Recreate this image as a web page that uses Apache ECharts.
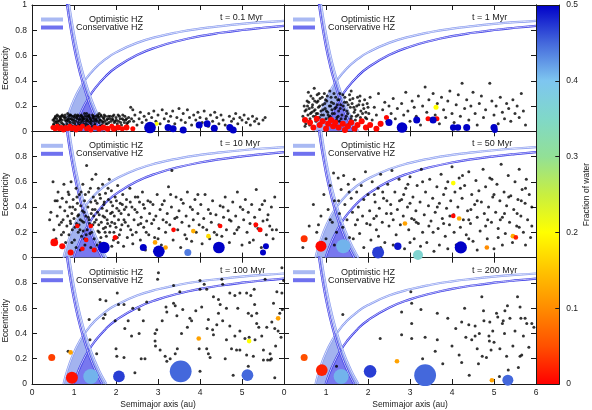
<!DOCTYPE html>
<html>
<head>
<meta charset="utf-8">
<title>Embryos and planetesimals, HZ snapshots</title>
<script src="https://cdn.jsdelivr.net/npm/echarts@6.0.0/dist/echarts.min.js"></script>
<style>
  html, body { margin: 0; padding: 0; background: #fff; }
  #chart { width: 592px; height: 410px; }
</style>
</head>
<body>
<div id="chart"></div>
<script>
// snapshot titles, one per panel (left to right, top to bottom)
const snapTimes = ["t = 0.1 Myr", "t = 1 Myr", "t = 10 Myr", "t = 50 Myr", "t = 100 Myr", "t = 200 Myr"];
const hzNames = ["Optimistic HZ", "Conservative HZ"];

// colour scale of the water fraction
const waterTicks = [0, 0.05, 0.1, 0.15, 0.2, 0.25, 0.3, 0.35, 0.4, 0.45, 0.5];
const waterColors = ["#ff0000", "#ff5000", "#ff8c00", "#ffc400", "#ffff00", "#c8ef40",
                     "#92e096", "#80d8c8", "#7ec6f0", "#4468dc", "#0000c8"];

// HZ limits: [a, e]
const hzOptArea = [[0.75,0],[0.8,0.063],[0.9,0.167],[1.0,0.25],[1.1,0.318],[1.2,0.375],[1.26,0.405],
  [1.3,0.362],[1.4,0.264],[1.5,0.18],[1.6,0.106],[1.7,0.041],[1.77,0]];
const hzConsArea = [[0.99,0],[1.1,0.1],[1.2,0.175],[1.3,0.238],[1.33,0.256],[1.4,0.193],[1.5,0.113],[1.6,0.044],[1.67,0]];
const riseOpt = [[0.75,0],[0.8,0.063],[0.9,0.167],[1.0,0.25],[1.1,0.318],[1.25,0.4],[1.5,0.5],[1.75,0.571],
  [2,0.625],[2.5,0.7],[3,0.75],[3.5,0.786],[4,0.813],[4.5,0.833],[5,0.85],[5.5,0.864],[6,0.875]];
const riseCons = [[0.99,0],[1.05,0.057],[1.1,0.1],[1.2,0.175],[1.33,0.256],[1.5,0.34],[1.75,0.434],[2,0.505],
  [2.5,0.604],[3,0.67],[3.5,0.717],[4,0.753],[4.5,0.78],[5,0.802],[5.5,0.82],[6,0.835]];
const fallOpt = [[0.85,1.082],[0.9,0.967],[1.0,0.77],[1.1,0.609],[1.2,0.475],[1.3,0.362],[1.4,0.264],
  [1.5,0.18],[1.6,0.106],[1.7,0.041],[1.77,0]];
const fallCons = [[0.8,1.088],[0.85,0.965],[0.9,0.856],[1.0,0.67],[1.1,0.518],[1.2,0.392],[1.3,0.285],
  [1.4,0.193],[1.5,0.113],[1.6,0.044],[1.67,0]];

// planetesimals (black dots): [a, e]
const dots01 = [[0.5,0.09],[0.52,0.06],[0.55,0.11],[0.58,0.04],[0.6,0.08],[0.63,0.12],[0.65,0.05],[0.68,0.1],[0.7,0.07],
  [0.72,0.13],[0.75,0.03],[0.78,0.09],[0.8,0.11],[0.83,0.06],[0.85,0.14],[0.88,0.08],[0.9,0.1],[0.93,0.05],[0.95,0.12],
  [0.98,0.07],[1.0,0.09],[1.03,0.13],[1.05,0.04],[1.08,0.1],[1.1,0.07],[1.13,0.12],[1.15,0.05],[1.18,0.09],[1.2,0.11],
  [1.23,0.06],[1.25,0.14],[1.28,0.08],[1.3,0.1],[1.33,0.05],[1.35,0.12],[1.38,0.07],[1.4,0.09],[1.43,0.04],[1.45,0.11],
  [1.48,0.08],[1.5,0.06],[1.53,0.1],[1.56,0.13],[1.6,0.07],[1.63,0.09],[1.66,0.05],[1.7,0.11],[1.73,0.08],[1.76,0.06],
  [1.8,0.1],[1.83,0.07],[1.86,0.12],[1.9,0.05],[1.93,0.09],[1.96,0.07],[2.0,0.11],[2.03,0.06],[2.06,0.08],[2.1,0.1],
  [2.13,0.05],[2.16,0.13],[2.2,0.07],[2.23,0.09],[2.26,0.06],[2.3,0.11],
  [0.53,0.1],[0.57,0.07],[0.62,0.03],[0.66,0.09],[0.69,0.12],[0.73,0.06],[0.77,0.11],[0.81,0.04],[0.84,0.09],[0.87,0.12],
  [0.91,0.07],[0.94,0.1],[0.97,0.04],[1.01,0.11],[1.04,0.08],[1.07,0.12],[1.11,0.05],[1.14,0.1],[1.17,0.13],[1.21,0.08],
  [1.24,0.1],[1.27,0.04],[1.31,0.12],[1.34,0.08],[1.37,0.11],[1.41,0.06],[1.44,0.13],[1.47,0.1],[1.51,0.12],[1.55,0.08],
  [1.59,0.11],[1.62,0.04],[1.65,0.12],[1.69,0.07],[1.72,0.13],[1.78,0.09],[1.85,0.1],[1.92,0.12],[1.98,0.08],[2.08,0.12],
  [2.18,0.09],[2.28,0.07],
  [0.51,0.05],[0.54,0.08],[0.56,0.12],[0.59,0.1],[0.61,0.06],[0.64,0.08],[0.67,0.11],[0.71,0.09],[0.74,0.12],[0.76,0.05],
  [0.79,0.13],[0.82,0.08],[0.86,0.1],[0.89,0.05],[0.92,0.13],[0.96,0.09],[0.99,0.12],[1.02,0.06],[1.06,0.11],[1.09,0.13],
  [1.12,0.09],[1.16,0.07],[1.19,0.12],[1.22,0.1],[1.26,0.12],[1.29,0.06],[1.32,0.09],[1.36,0.13],[1.39,0.1],[1.42,0.08],
  [1.46,0.12],[1.49,0.05],[1.52,0.09],[1.57,0.12],[1.61,0.09],[1.64,0.13],[1.67,0.08],[1.71,0.1],[1.75,0.12],[1.79,0.06],
  [1.82,0.12],[1.88,0.08],[1.91,0.1],[1.95,0.13],[2.01,0.09],[2.05,0.13],[2.11,0.07],[2.15,0.1],[2.21,0.12],[2.25,0.1],
  [2.32,0.08],[2.37,0.1],[0.6,0.13],[0.9,0.13],[1.3,0.14],[1.6,0.14],
  [2.35,0.19],[2.4,0.17],[2.42,0.08],[2.45,0.13],[2.5,0.05],[2.55,0.1],[2.58,0.15],[2.62,0.07],[2.67,0.12],[2.72,0.09],
  [2.78,0.14],[2.85,0.11],[2.9,0.16],[2.95,0.08],[3.0,0.13],[3.05,0.06],[3.1,0.17],[3.15,0.1],[3.2,0.14],[3.25,0.08],
  [3.3,0.12],[3.35,0.16],[3.4,0.06],[3.45,0.11],[3.5,0.18],[3.55,0.09],[3.6,0.14],[3.65,0.07],[3.7,0.17],[3.75,0.11],
  [3.8,0.05],[3.85,0.13],[3.9,0.09],[3.95,0.15],[4.0,0.11],[4.05,0.07],[4.1,0.16],[4.15,0.1],[4.2,0.04],[4.25,0.13],
  [4.3,0.08],[4.35,0.15],[4.4,0.11],[4.45,0.06],[4.5,0.13],[4.55,0.09],[4.6,0.05],[4.7,0.12],[4.75,0.08],[4.8,0.1],
  [4.85,0.14],[4.9,0.06],[4.95,0.11],[5.0,0.09],[5.05,0.13],[5.1,0.07],[5.15,0.1],[5.2,0.05],[5.25,0.12],[5.3,0.08],
  [5.35,0.1],[5.4,0.06],[5.5,0.09],[5.55,0.11]];
const dots1 = [[0.45,0.12],[0.48,0.2],[0.5,0.16],[0.52,0.06],[0.55,0.24],[0.57,0.13],[0.6,0.18],[0.62,0.1],[0.64,0.28],
  [0.66,0.15],[0.68,0.21],[0.7,0.12],[0.72,0.34],[0.74,0.17],[0.76,0.08],[0.78,0.23],[0.8,0.14],[0.82,0.19],[0.84,0.11],
  [0.86,0.26],[0.88,0.16],[0.9,0.09],[0.92,0.21],[0.94,0.13],[0.96,0.3],[0.98,0.18],[1.0,0.1],[1.02,0.24],[1.04,0.15],
  [1.06,0.07],[1.08,0.2],[1.1,0.12],[1.12,0.27],[1.14,0.17],[1.16,0.09],[1.18,0.22],[1.2,0.14],[1.22,0.05],[1.24,0.19],
  [1.26,0.11],[1.28,0.25],[1.3,0.16],[1.32,0.08],[1.35,0.21],[1.38,0.13],[1.4,0.29],[1.43,0.17],[1.46,0.1],[1.49,0.23],
  [1.52,0.14],[1.55,0.06],[1.58,0.19],[1.61,0.12],[1.64,0.26],[1.67,0.15],[1.7,0.09],[1.73,0.2],[1.76,0.13],[1.8,0.24],
  [1.83,0.16],[1.86,0.07],[1.9,0.18],[1.94,0.11],[1.98,0.22],[2.02,0.14],
  [0.5,0.04],[0.56,0.2],[0.63,0.14],[0.69,0.26],[0.75,0.12],[0.81,0.24],[0.87,0.06],[0.93,0.17],[0.99,0.25],[1.05,0.13],
  [1.11,0.2],[1.17,0.03],[1.23,0.27],[1.29,0.12],[1.34,0.18],[1.39,0.06],[1.44,0.23],[1.5,0.16],[1.57,0.25],[1.63,0.08],
  [1.69,0.17],[1.75,0.27],[1.82,0.11],[1.88,0.21],[1.95,0.15],[0.58,0.31],[0.83,0.3],[1.09,0.32],[1.33,0.3],[1.6,0.32],
  [0.47,0.09],[0.53,0.17],[0.59,0.23],[0.61,0.05],[0.67,0.19],[0.71,0.16],[0.73,0.24],[0.77,0.14],[0.79,0.29],[0.85,0.2],
  [0.89,0.13],[0.91,0.27],[0.95,0.08],[0.97,0.22],[1.01,0.16],[1.03,0.28],[1.07,0.11],[1.13,0.23],[1.15,0.14],[1.19,0.3],
  [1.21,0.18],[1.25,0.09],[1.27,0.21],[1.31,0.25],[1.36,0.1],[1.41,0.2],[1.45,0.27],[1.48,0.12],[1.53,0.21],[1.56,0.29],
  [1.59,0.1],[1.62,0.22],[1.66,0.19],[1.72,0.12],[1.78,0.21],[1.81,0.28],[1.87,0.14],[1.92,0.25],[1.97,0.1],[2.0,0.19],
  [2.05,0.27],[2.1,0.09],[2.15,0.19],[2.2,0.13],[2.25,0.3],[2.3,0.05],[2.35,0.17],[2.4,0.23],[2.45,0.08],[2.5,0.2],
  [2.55,0.14],[2.6,0.26],[2.65,0.1],[2.7,0.18],[2.75,0.04],[2.8,0.22],[2.85,0.13],[2.9,0.31],[2.95,0.16],[3.0,0.08],
  [3.05,0.24],[3.1,0.19],[3.15,0.12],[3.2,0.28],[3.25,0.05],[3.3,0.2],[3.36,0.35],[3.4,0.15],[3.45,0.25],[3.5,0.1],
  [3.55,0.3],[3.6,0.13],[3.65,0.22],[3.7,0.06],[3.75,0.27],[3.8,0.17],[3.85,0.11],[3.9,0.24],[3.95,0.32],[4.0,0.14],
  [4.05,0.07],[4.1,0.21],[4.15,0.29],[4.2,0.12],[4.24,0.38],[4.3,0.18],[4.35,0.25],[4.4,0.09],[4.45,0.2],[4.5,0.31],
  [4.55,0.14],[4.6,0.05],[4.65,0.22],[4.7,0.28],[4.75,0.11],[4.8,0.17],[4.9,0.38],[4.95,0.24],[5.0,0.13],[5.05,0.2],
  [5.1,0.06],[5.15,0.27],[5.2,0.15],[5.25,0.1],[5.3,0.22],[5.35,0.18],[5.4,0.08],[5.45,0.25],[5.5,0.14],[5.55,0.2],
  [5.6,0.11],[5.65,0.3],[5.7,0.16],[5.75,0.05]];
const dots10 = [[0.42,0.3],[0.45,0.36],[0.5,0.6],[0.52,0.22],[0.55,0.45],[0.57,0.15],[0.6,0.33],[0.62,0.52],[0.65,0.26],
  [0.67,0.4],[0.7,0.18],[0.72,0.47],[0.74,0.3],[0.76,0.58],[0.78,0.37],[0.8,0.12],
  [0.82,0.44],[0.83,0.25],[0.85,0.33],[0.86,0.52],[0.88,0.18],[0.9,0.4],[0.91,0.29],[0.93,0.6],[0.95,0.35],[0.96,0.22],
  [0.98,0.46],[1.0,0.31],[1.01,0.14],[1.03,0.38],[1.05,0.55],[1.06,0.27],[1.08,0.43],[1.1,0.2],[1.11,0.34],[1.13,0.5],
  [1.15,0.3],[1.16,0.41],[1.18,0.17],[1.2,0.37],[1.21,0.58],[1.23,0.28],[1.25,0.45],[1.26,0.1],[1.28,0.33],[1.3,0.73],
  [1.31,0.22],[1.33,0.4],[1.35,0.52],[1.36,0.3],[1.38,0.19],[1.4,0.44],[1.41,0.35],[1.43,0.62],[1.45,0.26],[1.46,0.48],
  [1.48,0.15],[1.5,0.38],[1.52,0.66],[1.53,0.3],[1.55,0.43],[1.57,0.21],[1.58,0.55],[1.6,0.34],[1.62,0.12],[1.63,0.47],
  [1.65,0.28],[1.67,0.39],[1.68,0.58],[1.7,0.23],[1.72,0.44],[1.73,0.32],[1.75,0.51],[1.77,0.17],[1.78,0.37],[1.8,0.27],
  [1.82,0.46],[1.84,0.62],[1.85,0.2],[1.87,0.35],[1.89,0.53],[1.9,0.28],[1.92,0.41],[1.94,0.14],[1.96,0.33],[1.98,0.48],
  [2.0,0.24],[2.02,0.39],[2.04,0.57],[2.06,0.3],[2.08,0.18],[2.1,0.43],[2.12,0.35],[2.14,0.26],[2.16,0.5],[2.18,0.09],
  [2.2,0.38],[0.95,0.12],[1.05,0.08],[1.15,0.06],[1.25,0.15],[1.4,0.08],[1.55,0.1],[1.7,0.06],[1.9,0.09],[2.05,0.12],
  [1.12,0.26],[1.22,0.21],[1.37,0.27],[1.47,0.33],[1.6,0.2],[1.75,0.24],[1.95,0.2],
  [0.88,0.5],[0.92,0.27],[0.97,0.4],[1.02,0.24],[1.07,0.48],[1.09,0.33],[1.14,0.22],[1.17,0.52],[1.19,0.29],[1.24,0.36],
  [1.27,0.5],[1.29,0.18],[1.34,0.32],[1.39,0.55],[1.42,0.2],[1.44,0.38],[1.49,0.28],[1.51,0.45],[1.56,0.36],[1.59,0.26],
  [1.61,0.5],[1.64,0.16],[1.69,0.33],[1.71,0.42],[1.74,0.2],[1.79,0.3],[1.81,0.55],[1.86,0.25],[1.88,0.44],[1.91,0.36],
  [1.97,0.27],[2.01,0.45],[2.03,0.16],[2.07,0.37],[2.11,0.22],[2.15,0.42],[2.19,0.3],[2.24,0.4],[2.29,0.25],[2.34,0.44],
  [2.39,0.18],[2.45,0.38],[2.52,0.48],[2.59,0.27],[2.65,0.42],[2.72,0.2],[2.82,0.44],[2.9,0.3],[3.0,0.15],[3.1,0.42],
  [3.2,0.28],[3.3,0.5],[3.45,0.32],[3.55,0.46],[3.68,0.15],[3.82,0.38],[3.95,0.5],[4.07,0.24],[4.25,0.35],[4.4,0.18],
  [4.55,0.4],[4.7,0.3],[4.88,0.22],[5.02,0.38],[5.18,0.12],[5.32,0.25],[5.48,0.42],[5.6,0.3],[5.72,0.22],[0.6,0.45],
  [0.7,0.28],[0.75,0.2],
  [2.22,0.28],[2.25,0.46],[2.27,0.16],[2.3,0.34],[2.33,0.55],[2.35,0.22],[2.38,0.4],[2.4,0.11],[2.43,0.3],[2.46,0.48],
  [2.48,0.2],[2.5,0.36],[2.53,0.26],[2.56,0.44],[2.58,0.14],[2.6,0.32],[2.63,0.52],[2.66,0.24],[2.68,0.39],[2.7,0.06],
  [2.73,0.29],[2.76,0.45],[2.78,0.18],[2.8,0.35],
  [2.85,0.27],[2.88,0.42],[2.92,0.16],[2.95,0.33],[2.98,0.5],[3.02,0.23],[3.05,0.38],[3.08,0.1],[3.12,0.3],[3.15,0.45],
  [3.18,0.2],[3.22,0.35],[3.25,0.56],[3.28,0.26],[3.32,0.4],[3.33,0.69],[3.36,0.14],[3.4,0.31],[3.43,0.48],[3.47,0.22],
  [3.5,0.37],[3.54,0.08],[3.57,0.28],[3.6,0.43],[3.64,0.18],[3.67,0.33],[3.7,0.52],[3.74,0.25],[3.77,0.4],[3.8,0.13],
  [3.84,0.3],[3.88,0.46],[3.91,0.2],[3.95,0.35],[3.98,0.26],[4.02,0.42],[4.05,0.11],[4.09,0.31],[4.12,0.5],[4.16,0.22],
  [4.2,0.38],[4.23,0.15],[4.27,0.28],[4.3,0.45],[4.34,0.2],[4.38,0.34],[4.41,0.06],[4.45,0.26],[4.48,0.41],[4.52,0.17],
  [4.56,0.32],[4.6,0.48],[4.63,0.22],[4.67,0.37],[4.7,0.12],[4.74,0.29],[4.78,0.44],[4.82,0.19],[4.85,0.33],[4.89,0.52],
  [4.92,0.24],[4.96,0.4],[5.0,0.1],[5.04,0.3],[5.08,0.46],[5.12,0.2],[5.15,0.36],[5.19,0.27],[5.23,0.42],[5.27,0.14],
  [5.3,0.32],[5.34,0.54],[5.38,0.23],[5.42,0.38],[5.46,0.08],[5.5,0.29],[5.54,0.45],[5.58,0.18],[5.62,0.34],[5.66,0.25],
  [5.7,0.4],[5.74,0.15],[5.78,0.48],[5.82,0.22]];
const dots50 = [[0.45,0.08],[0.6,0.25],[0.7,0.42],[0.78,0.2],[0.82,0.26],[0.88,0.33],[0.95,0.5],[1.0,0.15],[1.05,0.38],
  [1.1,0.57],[1.15,0.28],[1.18,0.67],[1.2,0.45],[1.25,0.2],[1.29,0.63],[1.32,0.35],[1.36,0.54],[1.4,0.24],[1.42,0.65],
  [1.45,0.42],[1.5,0.3],[1.53,0.58],[1.56,0.16],[1.6,0.47],[1.63,0.36],[1.67,0.62],[1.7,0.26],[1.73,0.52],[1.77,0.4],
  [1.8,0.19],[1.84,0.57],[1.87,0.33],[1.9,0.46],[1.94,0.68],[1.97,0.27],[2.0,0.5],[2.04,0.37],[2.07,0.14],[2.1,0.6],
  [2.14,0.31],[2.17,0.44],[2.2,0.22],[2.24,0.55],[2.27,0.39],[2.3,0.66],[2.34,0.28],[2.37,0.47],[2.4,0.12],[2.44,0.35],
  [2.47,0.58],[2.5,0.25],[2.54,0.42],[2.57,0.69],[2.6,0.3],[2.64,0.52],[2.67,0.18],[2.7,0.38],[2.74,0.62],[2.77,0.26],
  [2.8,0.46],[2.84,0.33],[2.87,0.07],[2.9,0.55],[2.94,0.4],[2.97,0.22],[3.0,0.64],[3.04,0.31],[3.07,0.48],[3.1,0.15],
  [3.14,0.37],[3.17,0.57],[3.2,0.27],[3.24,0.44],[3.27,0.7],[3.3,0.2],[3.34,0.34],[3.37,0.52],[3.4,0.12],[3.44,0.41],
  [3.47,0.62],[3.5,0.29],[3.54,0.47],[3.57,0.05],[3.6,0.36],[3.64,0.56],[3.67,0.23],[3.7,0.43],[3.74,0.66],[3.77,0.31],
  [3.8,0.5],[3.84,0.17],[3.87,0.39],[3.9,0.6],[3.94,0.26],[3.97,0.45],[4.0,0.72],[4.04,0.34],[4.07,0.52],[4.1,0.1],
  [4.14,0.4],[4.17,0.63],[4.2,0.24],[4.24,0.47],[4.27,0.3],[4.3,0.57],[4.34,0.18],[4.37,0.37],[4.4,0.68],[4.44,0.27],
  [4.47,0.5],[4.5,0.13],[4.54,0.42],[4.57,0.61],[4.6,0.32],[4.64,0.53],[4.67,0.21],[4.7,0.44],[4.74,0.7],[4.77,0.35],
  [4.8,0.56],[4.84,0.15],[4.87,0.4],[4.9,0.63],[4.94,0.28],[4.97,0.48],[5.0,0.07],[5.04,0.36],[5.07,0.58],[5.1,0.23],
  [5.14,0.45],[5.17,0.74],[5.2,0.32],[5.24,0.52],[5.27,0.19],[5.3,0.41],[5.34,0.65],[5.37,0.28],[5.4,0.49],[5.44,0.12],
  [5.47,0.38],[5.5,0.6],[5.54,0.25],[5.57,0.46],[5.6,0.7],[5.64,0.33],[5.67,0.54],[5.7,0.2],[5.74,0.43],[5.77,0.62],
  [5.8,0.3],[5.84,0.5],[5.87,0.16],[5.9,0.4],
  [1.5,0.1],[1.9,0.08],[2.25,0.17],[2.6,0.1],[3.25,0.09],[3.9,0.07],[4.6,0.06],[5.2,0.1],
  [2.15,0.5],[2.45,0.45],[2.85,0.5],[3.15,0.28],[3.55,0.2],[3.95,0.33],[4.45,0.38],[4.85,0.3],[5.25,0.35],[5.65,0.45],
  [2.2,0.33],[3.0,0.43],[3.8,0.27],[4.2,0.55],[5.0,0.5],[5.6,0.24],
  [1.1,0.3],[1.3,0.45],[1.55,0.52],[1.75,0.3],[2.05,0.26],[2.35,0.52],[2.55,0.35],[2.75,0.45],[2.95,0.58],[3.1,0.3],
  [3.3,0.6],[3.45,0.25],[3.65,0.4],[3.85,0.55],[4.05,0.2],[4.25,0.65],[4.4,0.3],[4.6,0.45],[4.8,0.25],[4.95,0.62],
  [5.15,0.3],[5.35,0.48],[5.55,0.35],[5.75,0.55],[5.9,0.25],[1.65,0.15],[2.3,0.08],[3.0,0.12],[3.7,0.1],[4.4,0.15],
  [5.1,0.16],[5.75,0.1],[0.9,0.12],[1.2,0.1]];
const dots100 = [[0.86,0.26],[1.36,0.51],[1.38,0.35],[1.54,0.24],[1.62,0.67],[1.76,0.66],[1.7,0.52],[1.74,0.55],[2.02,0.22],
  [2.0,0.28],[2.03,0.72],[2.06,0.63],[1.98,0.5],[2.19,0.63],[2.21,0.44],[2.19,0.21],[2.29,0.5],[2.45,0.09],[2.55,0.59],
  [2.65,0.5],[2.55,0.4],[2.69,0.2],[2.93,0.4],[2.97,0.43],[2.99,0.83],[3.01,0.88],[2.93,0.34],[2.94,0.3],[3.05,0.27],
  [3.17,0.22],[3.19,0.61],[3.21,0.57],[3.37,0.78],[3.37,0.64],[3.41,0.62],[3.45,0.54],[3.52,0.73],[3.56,0.4],[3.46,0.28],
  [3.41,0.24],[3.29,0.2],[3.21,0.18],[3.59,0.59],[3.76,0.52],[3.8,0.5],[4.0,0.82],[4.1,0.79],[4.16,0.75],[4.0,0.75],
  [4.04,0.61],[4.2,0.51],[4.17,0.44],[4.3,0.43],[4.32,0.39],[4.16,0.28],[4.2,0.24],[4.24,0.21],[4.0,0.1],[3.98,0.28],
  [4.32,0.69],[4.44,0.67],[4.44,0.56],[4.48,0.63],[4.54,0.5],[4.63,0.6],[4.71,0.72],[4.83,0.7],[4.95,0.72],[5.11,0.72],
  [5.21,0.7],[5.29,0.75],[5.55,0.83],[4.52,0.83],[4.54,0.79],[5.35,0.56],[5.15,0.56],[5.23,0.54],[5.35,0.48],[4.71,0.46],
  [4.95,0.42],[4.83,0.38],[4.63,0.35],[4.75,0.28],[4.87,0.27],[4.95,0.27],[5.11,0.23],[5.27,0.22],[5.07,0.36],[5.17,0.37],
  [5.31,0.35],[5.51,0.27],[5.47,0.38],[5.59,0.45],[5.67,0.19],[5.7,0.2],[5.78,0.05],[5.83,0.73],[5.75,0.64],[5.71,0.49],
  [5.78,0.44],[5.86,0.42],[5.93,0.37],[5.96,0.59],[5.99,0.82],[4.79,0.07],[5.15,0.14],[5.67,0.24],[5.51,0.19],[5.61,0.19],
  [5.95,0.92],[5.95,0.72],[2.73,0.65],[2.37,0.38],[2.6,0.2],[3.1,0.5],[3.7,0.45],[4.4,0.47],[4.9,0.6],[5.4,0.45],
  [5.8,0.3],[2.4,0.6],[3.9,0.58],[4.6,0.2],[5.3,0.63],[5.9,0.56]];
const dots200 = [[1.4,0.55],[1.25,0.14],[2.29,0.36],[2.8,0.57],[3.02,0.73],[3.04,0.64],[3.26,0.59],[3.04,0.48],[2.8,0.39],
  [3.04,0.36],[3.36,0.37],[3.65,0.56],[3.65,0.35],[3.6,0.26],[3.78,0.16],[4.09,0.44],[4.23,0.49],[4.17,0.23],[4.23,0.17],
  [4.33,0.37],[4.4,0.47],[4.47,0.35],[4.55,0.46],[4.63,0.16],[4.41,0.07],[4.65,0.4],[4.71,0.69],[4.75,0.58],[4.76,0.5],
  [4.72,0.22],[4.82,0.21],[4.88,0.38],[4.89,0.34],[4.93,0.27],[4.97,0.42],[5.06,0.56],[5.09,0.53],[5.14,0.28],[5.2,0.48],
  [5.22,0.5],[5.26,0.58],[5.3,0.22],[5.34,0.11],[5.32,0.62],[5.38,0.52],[5.5,0.42],[5.56,0.69],[5.58,0.13],[5.62,0.61],
  [5.64,0.52],[5.62,0.22],[5.66,0.23],[5.74,0.52],[5.78,0.48],[5.83,0.29],[5.9,0.48],[5.13,0.06],[4.55,0.38],[4.9,0.49],
  [3.3,0.2],[4.0,0.3],[4.3,0.6],[5.0,0.33],[5.45,0.3],[5.7,0.38],[3.9,0.52],[4.6,0.28],[5.25,0.4],[5.95,0.45]];

// embryos / planets: [a, e, water fraction, mass (M_earth)]
const bodies01 = [[0.5,0.03,0.005,0.016],[0.55,0.02,0.005,0.016],[0.6,0.04,0.005,0.016],[0.65,0.02,0.005,0.016],
  [0.7,0.03,0.005,0.016],[0.75,0.01,0.005,0.016],[0.8,0.03,0.005,0.016],[0.85,0.02,0.005,0.016],[0.9,0.04,0.005,0.016],
  [0.95,0.02,0.005,0.016],[1.0,0.03,0.005,0.016],[1.05,0.01,0.005,0.016],[1.1,0.03,0.005,0.016],[1.15,0.02,0.005,0.016],
  [1.2,0.04,0.005,0.016],[1.3,0.02,0.005,0.016],[1.35,0.03,0.005,0.016],[1.4,0.01,0.005,0.016],[1.5,0.03,0.005,0.016],
  [1.6,0.02,0.005,0.027],[1.7,0.03,0.005,0.027],[1.8,0.02,0.005,0.027],[1.9,0.04,0.005,0.016],[1.95,0.02,0.005,0.027],
  [2.05,0.03,0.005,0.027],[2.15,0.02,0.005,0.016],[2.25,0.03,0.005,0.027],[2.4,0.02,0.005,0.016],
  [2.97,0.06,0.2,0.008],
  [2.81,0.03,0.5,0.2],[3.24,0.03,0.5,0.043],[3.36,0.02,0.5,0.043],[3.6,0.01,0.5,0.043],[3.98,0.05,0.5,0.043],
  [4.17,0.06,0.5,0.043],[4.34,0.025,0.5,0.043],[4.71,0.03,0.5,0.043],[4.79,0.01,0.5,0.043]];
const bodies1 = [[0.5,0.09,0.005,0.027],[0.62,0.07,0.005,0.027],[0.7,0.03,0.005,0.027],[0.78,0.1,0.005,0.027],
  [0.85,0.05,0.005,0.027],[0.92,0.08,0.005,0.027],[1.0,0.02,0.005,0.027],[1.05,0.06,0.005,0.027],[1.12,0.09,0.005,0.027],
  [1.17,0.04,0.005,0.027],[1.22,0.07,0.005,0.027],[1.3,0.03,0.005,0.027],[1.4,0.06,0.005,0.027],[1.45,0.01,0.005,0.027],
  [1.52,0.04,0.005,0.027],[1.6,0.07,0.005,0.027],[1.68,0.02,0.005,0.027],[1.75,0.05,0.005,0.027],[1.85,0.08,0.005,0.027],
  [1.95,0.03,0.005,0.027],[2.05,0.05,0.005,0.027],[2.2,0.02,0.005,0.027],[2.3,0.06,0.005,0.027],[2.44,0.11,0.005,0.016],
  [3.43,0.1,0.005,0.016],[3.64,0.1,0.005,0.016],
  [3.62,0.19,0.2,0.016],
  [2.5,0.07,0.5,0.043],[2.81,0.03,0.5,0.15],[3.16,0.09,0.5,0.043],[3.55,0.09,0.5,0.043],[4.03,0.03,0.5,0.035],
  [4.14,0.03,0.5,0.035],[4.35,0.03,0.5,0.043],[5.0,0.03,0.5,0.043],[5.02,0.01,0.5,0.027]];
const bodies10 = [[0.53,0.12,0.005,0.057],[0.72,0.09,0.005,0.027],[0.92,0.04,0.005,0.027],[1.08,0.25,0.005,0.0125],
  [1.4,0.25,0.005,0.0125],[1.29,0.14,0.005,0.0125],[1.2,0.07,0.005,0.0125],[1.48,0.06,0.005,0.0156],[1.98,0.16,0.005,0.0156],
  [3.37,0.22,0.005,0.0125],[4.48,0.25,0.005,0.0125],[5.33,0.26,0.005,0.0156],[5.43,0.22,0.005,0.0156],
  [2.93,0.12,0.12,0.0125],[3.18,0.08,0.12,0.0125],[3.84,0.21,0.13,0.0125],[4.2,0.17,0.17,0.0125],
  [1.71,0.08,0.5,0.2],[2.65,0.08,0.5,0.043],[3.02,0.05,0.5,0.2],[3.71,0.04,0.44,0.043],[4.45,0.08,0.5,0.2],
  [5.57,0.09,0.5,0.027],[5.5,0.04,0.5,0.027]];
const bodies50 = [[0.48,0.15,0.03,0.043],[0.88,0.09,0.005,0.166],[1.41,0.09,0.41,0.34],[2.24,0.04,0.47,0.216],
  [2.71,0.09,0.49,0.05],[3.19,0.02,0.36,0.125],[4.21,0.08,0.5,0.23],[4.03,0.59,0.2,0.0125],[4.03,0.33,0.005,0.0125],
  [4.17,0.31,0.13,0.0125],[2.88,0.27,0.12,0.0125],[4.83,0.08,0.1,0.0125],[5.45,0.17,0.13,0.0125],[5.52,0.16,0.02,0.0125]];
const bodies100 = [[0.47,0.21,0.04,0.043],[0.92,0.25,0.12,0.0125],[0.95,0.05,0.01,0.216],[1.4,0.06,0.41,0.42],
  [2.07,0.06,0.47,0.2],[3.54,0.1,0.45,1.3],[5.13,0.07,0.45,0.2],[3.97,0.36,0.12,0.0125],[5.17,0.34,0.2,0.0125],
  [5.86,0.52,0.12,0.0125]];
const bodies200 = [[0.48,0.21,0.05,0.043],[0.9,0.11,0.02,0.2],[1.36,0.06,0.41,0.42],[2.05,0.1,0.47,0.25],
  [2.69,0.18,0.12,0.0125],[3.36,0.07,0.45,1.3],[4.95,0.03,0.12,0.0125],[5.33,0.03,0.45,0.166]];

const panelDots = [dots01, dots1, dots10, dots50, dots100, dots200];
const panelBodies = [bodies01, bodies1, bodies10, bodies50, bodies100, bodies200];

const FONT = '"Liberation Sans", Arial, Helvetica, sans-serif';
const INK = "#1a1a1a";
const OPT_FILL = "#a3b3ef", CONS_FILL = "#7878ef";
const OPT_LINE = "#8699ef", CONS_LINE = "#3a3ae6";

const colLeft = [32, 284], rowTop = [5, 131.3, 257.7];
const PW = 252, PH = 126.3;

const grids = [], xAxes = [], yAxes = [], series = [], graphics = [], bodyIdx = [];
const lab = { fontFamily: FONT, fontSize: 8.5, color: INK };
const axLine = { show: true, onZero: false, lineStyle: { color: INK, width: 1 } };
const axTick = { show: true, inside: true, length: 5, lineStyle: { color: INK, width: 1 } };

// HZ edge: drawn as a double line (coloured stroke with a thin white core)
function curve(data, color, xa, ya) {
  const base = { type: "line", xAxisIndex: xa, yAxisIndex: ya, data: data, symbol: "none",
                 smooth: true, silent: true, z: 3, animation: false };
  return [
    Object.assign({}, base, { lineStyle: { color: color, width: 2.2 } }),
    Object.assign({}, base, { lineStyle: { color: "#fff", width: 0.7 } })
  ];
}

for (let i = 0; i < 6; i++) {
  const col = i % 2, row = Math.floor(i / 2);
  const L = colLeft[col], T = rowTop[row];
  grids.push({ left: L, top: T, width: PW, height: PH });

  xAxes.push({
    gridIndex: i, type: "value", min: 0, max: 6, interval: 1, position: "bottom",
    axisLine: axLine, axisTick: axTick, splitLine: { show: false },
    axisLabel: Object.assign({ show: row === 2, margin: 4,
      formatter: v => (col === 0 && v === 6) ? "" : String(v) }, lab),
    name: row === 2 ? "Semimajor axis (au)" : "", nameLocation: "middle", nameGap: 16,
    nameTextStyle: lab
  });
  xAxes.push({
    gridIndex: i, type: "value", min: 0, max: 6, interval: 1, position: "top",
    axisLine: axLine, axisTick: axTick, splitLine: { show: false }, axisLabel: { show: false }
  });
  yAxes.push({
    gridIndex: i, type: "value", min: 0, max: 1, interval: 0.2, position: "left",
    axisLine: axLine, axisTick: axTick, splitLine: { show: false },
    axisLabel: Object.assign({ show: col === 0, margin: 5,
      formatter: v => (row > 0 && v === 1) ? "" : String(+v.toFixed(1)) }, lab),
    name: col === 0 ? "Eccentricity" : "", nameLocation: "middle", nameRotate: 90, nameGap: 22,
    nameTextStyle: lab
  });
  yAxes.push({
    gridIndex: i, type: "value", min: 0, max: 1, interval: 0.2, position: "right",
    axisLine: axLine, axisTick: axTick, splitLine: { show: false }, axisLabel: { show: false }
  });

  const xa = 2 * i, ya = 2 * i;
  series.push({ type: "line", xAxisIndex: xa, yAxisIndex: ya, data: hzOptArea, symbol: "none", silent: true,
    lineStyle: { width: 0, opacity: 0 }, areaStyle: { color: OPT_FILL, opacity: 1 }, z: 1 });
  series.push({ type: "line", xAxisIndex: xa, yAxisIndex: ya, data: hzConsArea, symbol: "none", silent: true,
    lineStyle: { width: 0, opacity: 0 }, areaStyle: { color: CONS_FILL, opacity: 1 }, z: 1 });
  series.push(...curve(riseOpt, OPT_LINE, xa, ya));
  series.push(...curve(riseCons, CONS_LINE, xa, ya));
  series.push(...curve(fallOpt, OPT_LINE, xa, ya));
  series.push(...curve(fallCons, CONS_LINE, xa, ya));
  series.push({ type: "scatter", xAxisIndex: xa, yAxisIndex: ya, data: panelDots[i], symbolSize: 3,
    itemStyle: { color: "#000" }, silent: true, z: 4 });
  bodyIdx.push(series.length);
  series.push({ type: "scatter", xAxisIndex: xa, yAxisIndex: ya, data: panelBodies[i], clip: false,
    symbolSize: v => 20 * Math.cbrt(v[3]), itemStyle: { opacity: 1 }, silent: true, z: 5 });

  // legend and time stamp of the panel
  graphics.push({ type: "rect", shape: { x: L + 9, y: T + 12.5, width: 22, height: 4 }, style: { fill: "#a9b9f3" } });
  graphics.push({ type: "rect", shape: { x: L + 9, y: T + 20.5, width: 22, height: 4 }, style: { fill: "#6f71ef" } });
  graphics.push({ type: "text", x: L + 111, y: T + 14.5, style: { text: hzNames[0], font: "9px " + FONT, fill: INK,
    textAlign: "right", align: "right", textVerticalAlign: "middle", verticalAlign: "middle" } });
  graphics.push({ type: "text", x: L + 111, y: T + 22.5, style: { text: hzNames[1], font: "9px " + FONT, fill: INK,
    textAlign: "right", align: "right", textVerticalAlign: "middle", verticalAlign: "middle" } });
  graphics.push({ type: "text", x: L + 188, y: T + 12.5, style: { text: snapTimes[i], font: "9px " + FONT, fill: INK,
    textAlign: "left", align: "left", textVerticalAlign: "middle", verticalAlign: "middle" } });
}

// colour bar
grids.push({ left: 536, top: 5, width: 26, height: 379 });
xAxes.push({ gridIndex: 6, type: "category", data: ["w"], position: "bottom", z: 10,
  axisLine: axLine, axisTick: { show: false }, axisLabel: { show: false } });
xAxes.push({ gridIndex: 6, type: "category", data: ["w"], position: "top", z: 10,
  axisLine: axLine, axisTick: { show: false }, axisLabel: { show: false } });
yAxes.push({ gridIndex: 6, type: "value", min: 0, max: 0.5, interval: 0.1, position: "left", z: 10,
  axisLine: axLine, axisTick: { show: false }, axisLabel: { show: false }, splitLine: { show: false } });
yAxes.push({ gridIndex: 6, type: "value", min: 0, max: 0.5, interval: 0.1, position: "right", z: 10,
  axisLine: axLine, axisTick: { show: true, inside: true, length: 4, lineStyle: { color: INK } },
  splitLine: { show: false },
  axisLabel: Object.assign({ margin: 7, formatter: v => String(+v.toFixed(1)) }, lab),
  name: "Fraction of water", nameLocation: "middle", nameRotate: 90, nameGap: 22, nameTextStyle: lab });

const stops = waterTicks.map((w, k) => ({ offset: 1 - w / 0.5, color: waterColors[k] }));
series.push({ type: "bar", xAxisIndex: 12, yAxisIndex: 13, data: [0.5], barWidth: "100%", silent: true, z: 1,
  itemStyle: { color: new echarts.graphic.LinearGradient(0, 0, 0, 1, stops.slice().reverse()) } });

const chart = echarts.init(document.getElementById("chart"), null, { renderer: "canvas" });
chart.setOption({
  animation: false,
  backgroundColor: "#fff",
  grid: grids,
  xAxis: xAxes,
  yAxis: yAxes,
  visualMap: {
    type: "continuous", show: false, min: 0, max: 0.5, dimension: 2, seriesIndex: bodyIdx,
    inRange: { color: waterColors }
  },
  graphic: graphics,
  series: series
});
window.addEventListener("resize", () => chart.resize());
</script>
</body>
</html>
